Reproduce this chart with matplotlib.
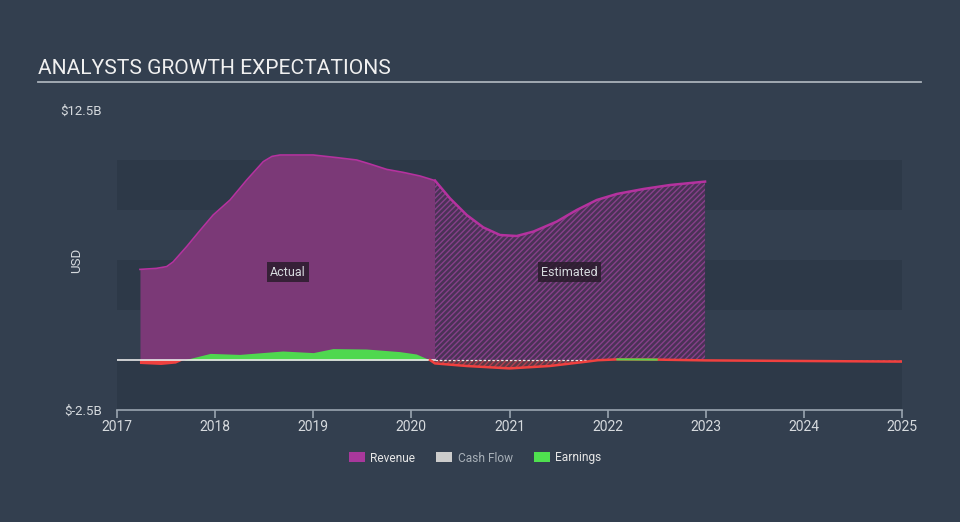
import numpy as np
import matplotlib
matplotlib.use("Agg")
import matplotlib.pyplot as plt
from matplotlib.patches import Patch

plt.rcParams['font.family'] = ['Roboto', 'DejaVu Sans']

# ---- data (years, USD billions) ----
rev_act_x = [2017.234, 2017.40, 2017.506, 2017.571, 2017.71, 2017.85, 2017.98, 2018.152,
             2018.322, 2018.491, 2018.58, 2018.661, 2019.0, 2019.239, 2019.443, 2019.578,
             2019.749, 2019.918, 2020.088, 2020.241]
rev_act_y = [4.53, 4.58, 4.67, 4.9, 5.67, 6.5, 7.25, 8.0,
             9.0, 9.92, 10.18, 10.25, 10.25, 10.12, 10.0, 9.8,
             9.53, 9.38, 9.2, 8.97]

rev_est_x = [2020.241, 2020.394, 2020.564, 2020.733, 2020.903, 2021.073, 2021.243,
             2021.481, 2021.685, 2021.889, 2022.092, 2022.364, 2022.636, 2022.993]
rev_est_y = [8.97, 8.08, 7.25, 6.63, 6.25, 6.2, 6.42, 6.92, 7.5, 8.0, 8.3, 8.55, 8.75, 8.92]

earn_act_x = [2017.234, 2017.45, 2017.6, 2017.68, 2017.95, 2018.25, 2018.69, 2019.0,
              2019.2, 2019.54, 2019.88, 2020.05, 2020.19]
earn_act_y = [-0.2, -0.25, -0.18, 0.0, 0.33, 0.28, 0.45, 0.37,
              0.57, 0.55, 0.42, 0.3, 0.0]

earn_est_x = [2020.19, 2020.24, 2020.564, 2021.0, 2021.41, 2021.79, 2021.9, 2022.1,
              2022.5, 2023.0, 2024.0, 2025.0]
earn_est_y = [0.0, -0.17, -0.3, -0.42, -0.3, -0.08, -0.01, 0.03,
              0.02, -0.02, -0.05, -0.08]

x_ticks = [2017, 2018, 2019, 2020, 2021, 2022, 2023, 2024, 2025]
y_ticks = [12.5, -2.5]
y_tick_labels = ['$12.5B', '$-2.5B']
legend_labels = ['Revenue', 'Cash Flow', 'Earnings']

# ---- style ----
BG = '#333f4f'
BAND = '#2d3948'
REV_FILL = '#7b3977'
REV_LINE = '#b5329f'
GREEN = '#4fd84f'
RED = '#f0413f'
TXT = '#d6dade'

fig = plt.figure(figsize=(9.6, 5.22), dpi=100, facecolor=BG)
ax = fig.add_axes([117/960, 1-410/522, 785/960, 300/522])
ax.set_facecolor(BG)
ax.set_xlim(2017, 2025)
ax.set_ylim(-2.5, 12.5)

for lo, hi in [(7.5, 10), (2.5, 5), (-2.5, 0)]:
    ax.axhspan(lo, hi, color=BAND, lw=0, zorder=0)

# revenue actual
ax.fill_between(rev_act_x, 0, rev_act_y, color=REV_FILL, lw=0, zorder=2)
ax.plot(rev_act_x, rev_act_y, color=REV_LINE, lw=1.2, zorder=3, solid_joinstyle='round')

# revenue estimated (hatched)
plt.rcParams['hatch.linewidth'] = 1.0
ax.fill_between(rev_est_x, 0, rev_est_y, facecolor='#4a3256', edgecolor='#87408a',
                hatch='//////', lw=0, zorder=2)
ax.plot(rev_est_x, rev_est_y, color=REV_LINE, lw=1.8, zorder=3, solid_joinstyle='round')

# earnings actual
ea_x = np.array(earn_act_x); ea_y = np.array(earn_act_y)
ax.fill_between(ea_x, 0, ea_y, where=ea_y >= 0, interpolate=True, color=GREEN, lw=0, zorder=4)
ax.fill_between(ea_x, 0, ea_y, where=ea_y <= 0, interpolate=True, color=RED, lw=0, zorder=4)

# zero line
ax.plot([2017, 2020.24], [0, 0], color='#e8e8e8', lw=1.2, zorder=5)
ax.plot([2020.24, 2021.8], [0, 0], color='#e8e8e8', lw=0.9, ls=(0, (2, 1.5)), zorder=5)

# earnings estimated
ee_x = np.array(earn_est_x); ee_y = np.array(earn_est_y)
ax.fill_between(ee_x, 0, ee_y, where=ee_y <= 0, interpolate=True, facecolor='#5a3a48',
                edgecolor='#b04050', hatch='//////', lw=0, zorder=4)
ax.plot(ee_x, ee_y, color=RED, lw=1.8, zorder=6, solid_joinstyle='round')
ax.plot(ee_x, np.ma.masked_where(ee_y < 0, ee_y), color=GREEN, lw=1.5, zorder=7)

# labels inside
box = dict(boxstyle='square,pad=0.25', facecolor='#2a1c2c', edgecolor='none', alpha=0.85)
ax.text(2018.74, 4.4, 'Actual', color=TXT, fontsize=9, ha='center', va='center', bbox=box, zorder=8)
ax.text(2021.61, 4.4, 'Estimated', color=TXT, fontsize=9, ha='center', va='center', bbox=box, zorder=8)

# axes styling
for s in ['top', 'right', 'left']:
    ax.spines[s].set_visible(False)
ax.spines['bottom'].set_color('#9aa5b0')
ax.spines['bottom'].set_linewidth(1.2)
ax.set_xticks(x_ticks)
ax.set_xticklabels([str(t) for t in x_ticks])
ax.tick_params(axis='x', colors='#9aa5b0', labelcolor=TXT, length=6, width=1.2,
               labelsize=10, pad=1)
ax.set_yticks(y_ticks)
ax.set_yticklabels(y_tick_labels)
ax.tick_params(axis='y', length=0, labelcolor=TXT, labelsize=9.5, pad=10.8)
ax.set_ylabel('USD', color=TXT, fontsize=9.5)
ax.yaxis.set_label_coords(-0.0433, 0.5)

# title
fig.text(38/960, 1-68/522, 'ANALYSTS GROWTH EXPECTATIONS', color='#f0f0f0', fontsize=15.1,
         ha='left', va='center')
fig.add_artist(plt.Line2D([38/960, 921/960], [1-82/522, 1-82/522], color='#aab2ba', lw=1.3))

# legend
handles = [Patch(facecolor='#a8389c', edgecolor='none'),
           Patch(facecolor='#cccccc', edgecolor='none'),
           Patch(facecolor='#4fe04f', edgecolor='none')]
leg = fig.legend(handles, legend_labels, loc='center', bbox_to_anchor=(475/960, 1-458/522),
                 ncol=3, frameon=False, fontsize=8.6, handlelength=1.35, handleheight=0.9,
                 columnspacing=1.75, handletextpad=0.45)
for t, c in zip(leg.get_texts(), ['#e6e6e6', '#a8b0b8', '#e6e6e6']):
    t.set_color(c)

fig.savefig('out.png', dpi=100, facecolor=BG)
